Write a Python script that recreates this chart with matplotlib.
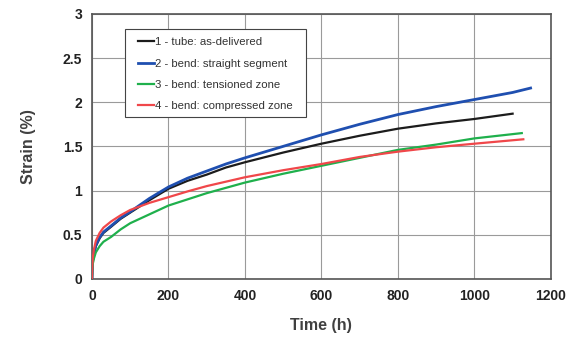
import numpy as np
import matplotlib.pyplot as plt
from matplotlib.patches import Rectangle

time_1 = [0, 1, 2, 5, 10, 20, 30, 50, 75, 100, 150, 200, 250, 300, 350, 400, 500, 600, 700, 800, 900, 1000, 1100]
strain_1 = [0, 0.14, 0.20, 0.28, 0.37, 0.46, 0.52, 0.59, 0.68, 0.75, 0.89, 1.02, 1.11, 1.18, 1.26, 1.32, 1.43, 1.53, 1.62, 1.70, 1.76, 1.81, 1.87]

time_2 = [0, 1, 2, 5, 10, 20, 30, 50, 75, 100, 150, 200, 250, 300, 350, 400, 500, 600, 700, 800, 900, 1000, 1100, 1147]
strain_2 = [0, 0.15, 0.21, 0.29, 0.38, 0.47, 0.53, 0.60, 0.69, 0.76, 0.91, 1.04, 1.14, 1.22, 1.30, 1.37, 1.50, 1.63, 1.75, 1.86, 1.95, 2.03, 2.11, 2.16]

time_3 = [0, 1, 2, 5, 10, 20, 30, 50, 75, 100, 150, 200, 250, 300, 350, 400, 500, 600, 700, 800, 900, 1000, 1124]
strain_3 = [0, 0.12, 0.17, 0.23, 0.30, 0.37, 0.42, 0.475, 0.56, 0.63, 0.73, 0.83, 0.90, 0.97, 1.03, 1.09, 1.19, 1.28, 1.37, 1.46, 1.52, 1.59, 1.65]

time_4 = [0, 1, 2, 5, 10, 20, 30, 50, 75, 100, 150, 200, 250, 300, 350, 400, 500, 600, 700, 800, 900, 1000, 1128]
strain_4 = [0, 0.17, 0.24, 0.33, 0.43, 0.52, 0.58, 0.65, 0.72, 0.78, 0.86, 0.925, 0.99, 1.05, 1.10, 1.15, 1.23, 1.30, 1.38, 1.44, 1.49, 1.53, 1.58]

labels = ["1 - tube: as-delivered", "2 - bend: straight segment",
          "3 - bend: tensioned zone", "4 - bend: compressed zone"]
x_ticks = [0, 200, 400, 600, 800, 1000, 1200]
y_ticks = [0, 0.5, 1, 1.5, 2, 2.5, 3]

# Function that draws the creep curves
# @ax - axes to draw into
def plot_curves(ax):
    ax.plot(time_1, strain_1, color="#1c1c1c", lw=1.6, label=labels[0], zorder=3)
    ax.plot(time_2, strain_2, color="#1f4fb0", lw=2.0, label=labels[1], zorder=3)
    ax.plot(time_3, strain_3, color="#1fb04c", lw=1.6, label=labels[2], zorder=3)
    ax.plot(time_4, strain_4, color="#f0474a", lw=1.6, label=labels[3], zorder=4)

def main():
    plt.rcParams['font.family'] = ['Liberation Sans', 'DejaVu Sans']
    fig = plt.figure(figsize=(5.75, 3.38), dpi=100)
    ax = fig.add_axes([0.16, 0.175, 0.798, 0.784])

    plot_curves(ax)

    ax.set_xlim(0, 1200)
    ax.set_ylim(0, 3)
    ax.set_xticks(x_ticks)
    ax.set_yticks(y_ticks)
    ax.set_yticklabels([f"{v:g}" for v in y_ticks])
    ax.tick_params(length=0, labelsize=10, pad=7, labelcolor="#222222")
    for t in ax.get_xticklabels() + ax.get_yticklabels():
        t.set_fontweight("bold")
    ax.grid(True, color="#9a9a9a", lw=0.8)
    ax.set_axisbelow(True)
    for s in ax.spines.values():
        s.set_color("#555555")
        s.set_linewidth(1.2)

    ax.set_xlabel("Time (h)", fontsize=11.5, fontweight="bold", color="#404040", labelpad=11)
    ax.set_ylabel("Strain (%)", fontsize=11.5, fontweight="bold", color="#404040", labelpad=19)

    # legend box drawn by hand, it has wider side padding than matplotlib's
    box = Rectangle((0.072, 0.611), 0.394, 0.332, transform=ax.transAxes,
                    facecolor="white", edgecolor="#444444", lw=0.8, zorder=5)
    ax.add_patch(box)
    leg = ax.legend(loc="upper left", bbox_to_anchor=(0.100, 0.912), borderaxespad=0,
                    fontsize=8.2, handlelength=1.4, handletextpad=0.1, labelspacing=1.0,
                    borderpad=0, frameon=False)
    leg.set_zorder(6)
    for t in leg.get_texts():
        t.set_color("#333333")

    fig.savefig("out.png", dpi=100)

if __name__ == "__main__":
    main()
